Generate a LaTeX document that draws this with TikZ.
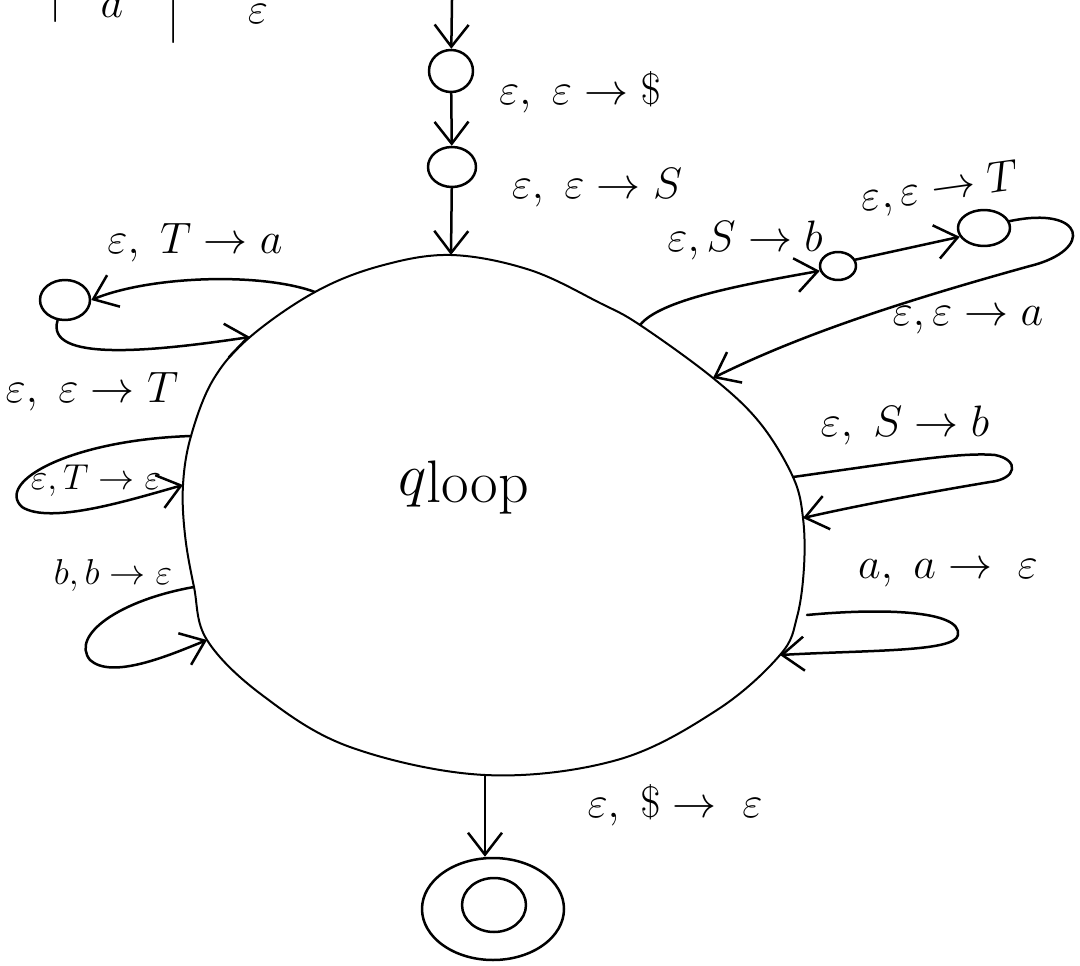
\RequirePackage{fix-cm}
\documentclass[tikz,border=0pt]{standalone}
\usetikzlibrary{arrows.meta,shapes.geometric}
\tikzset{
  hw/.style={line width=2.5pt, line cap=round, line join=round},
  edge/.style={hw, -{Straight Barb[length=22pt,width=34pt,line width=2.5pt]}},
  state/.style={draw, ellipse, hw, inner sep=0pt},
  lbl/.style={font=\fontsize{44}{52}\selectfont, inner sep=0pt},
  slbl/.style={font=\fontsize{36}{44}\selectfont, inner sep=0pt},
  blob/.style={line width=2pt},
}
\begin{document}
\begin{tikzpicture}[x=1pt,y=-1pt]
\useasboundingbox (0,0) rectangle (1080,966);
\clip (0,0) rectangle (1080,966);

% partial text at the top-left
\node[lbl, anchor=base] (bar1) at (56,12) {$|$};
\node[lbl, anchor=base] (ta) at (112,18) {$a$};
\node[lbl, anchor=base] (bar2) at (174,33) {$|$};
\node[lbl, anchor=base] (teps) at (258,24) {$\varepsilon$};

% states
\node[state, minimum width=44pt, minimum height=42pt] (s1) at (451,71) {};
\node[state, minimum width=48pt, minimum height=40pt] (s2) at (452,167) {};
\node[state, minimum width=50pt, minimum height=40pt] (s3) at (65,300) {};
\node[state, minimum width=36pt, minimum height=28pt] (s4) at (838,266) {};
\node[state, minimum width=52pt, minimum height=36pt] (s5) at (984,228) {};
\node[state, minimum width=142pt, minimum height=102pt] (fin) at (493,909) {};
\node[state, minimum width=64pt, minimum height=54pt] (finin) at (494,905) {};

% boundary points of the big loop state
\coordinate (T) at (451,255);
\coordinate (p1) at (530,270);
\coordinate (p2) at (600,303);
\coordinate (R1) at (640,325);
\coordinate (R2) at (713,378);
\coordinate (p3) at (760,423);
\coordinate (R3) at (793,477);
\coordinate (R4) at (803,518);
\coordinate (p4) at (804,567);
\coordinate (p5) at (797,617);
\coordinate (R6) at (780,655);
\coordinate (p6) at (717,710);
\coordinate (p7) at (617,760);
\coordinate (B) at (485,775);
\coordinate (p8) at (350,747);
\coordinate (p9) at (262,695);
\coordinate (L6) at (207,640);
\coordinate (L5) at (194,587);
\coordinate (p10) at (185,535);
\coordinate (L4) at (183,485);
\coordinate (L3) at (191,436);
\coordinate (p11) at (213,380);
\coordinate (L2) at (250,337);
\coordinate (L1) at (315,292);
\coordinate (p12) at (380,266);
\coordinate (R5) at (807,615);

\draw[blob] plot[smooth cycle, tension=0.6] coordinates {(T) (p1) (p2) (R1) (R2) (p3) (R3) (R4) (p4) (p5) (R6) (p6) (p7) (B) (p8) (p9) (L6) (L5) (p10) (L4) (L3) (p11) (L2) (L1) (p12)};

\node[font=\fontsize{60}{70}\selectfont, inner sep=0pt] (qloop) at (464,488) {$q$\raisebox{-0.3ex}{loop}};

% entry chain
\coordinate (start) at (452,0);
\draw[edge] (start) -- (s1);
\draw[edge] (s1) -- (s2);
\draw[edge] (s2) -- (T);

% left side
\draw[edge] (L1) .. controls (260,272) and (150,276) .. (s3.east);
\draw[edge] (s3.250) .. controls (45,362) and (150,352) .. (L2);
\draw[edge] (L3) .. controls (70,440) and (-5,482) .. (22,507)
                 .. controls (50,525) and (130,500) .. (L4);
\draw[edge] (L5) .. controls (120,600) and (70,635) .. (90,660)
                 .. controls (112,680) and (170,655) .. (L6);

% right side
\draw[edge] (R1) .. controls (660,300) and (740,285) .. (s4.195);
\draw[edge] (s4.20) -- (s5.200);
\draw[edge] (s5.15) .. controls (1085,205) and (1095,250) .. (1030,266)
                   .. controls (900,302) and (800,335) .. (R2);
\draw[edge] (R3) .. controls (900,462) and (960,452) .. (995,455)
                 .. controls (1020,460) and (1017,479) .. (990,482)
                 .. controls (930,492) and (860,505) .. (R4);
\draw[edge] (R5) .. controls (880,608) and (962,610) .. (958,635)
                 .. controls (955,652) and (870,650) .. (R6);

% exit
\draw[edge] (B) -- (B |- fin.north);

% labels
\node[lbl] (l1) at (580,92) {$\varepsilon,\ \varepsilon\to\$$};
\node[lbl] (l2) at (597,188) {$\varepsilon,\ \varepsilon\to S$};
\node[lbl] (l3) at (195,243) {$\varepsilon,\ T\to a$};
\node[lbl] (l4) at (92,392) {$\varepsilon,\ \varepsilon\to T$};
\node[slbl] (l5) at (96,481) {$\varepsilon, T\to\varepsilon$};
\node[slbl] (l6) at (113,575) {$b, b\to\varepsilon$};
\node[lbl] (l7) at (745,240) {$\varepsilon, S\to b$};
\node[lbl, rotate=8] (l8) at (940,190) {$\varepsilon, \varepsilon\to T$};
\node[lbl] (l9) at (968,320) {$\varepsilon, \varepsilon\to a$};
\node[lbl] (l10) at (905,425) {$\varepsilon,\ S\to b$};
\node[lbl] (l11) at (948,573) {$a,\ a\to\ \varepsilon$};
\node[lbl] (l12) at (675,805) {$\varepsilon,\ \$\to\ \varepsilon$};
\end{tikzpicture}
\end{document}
